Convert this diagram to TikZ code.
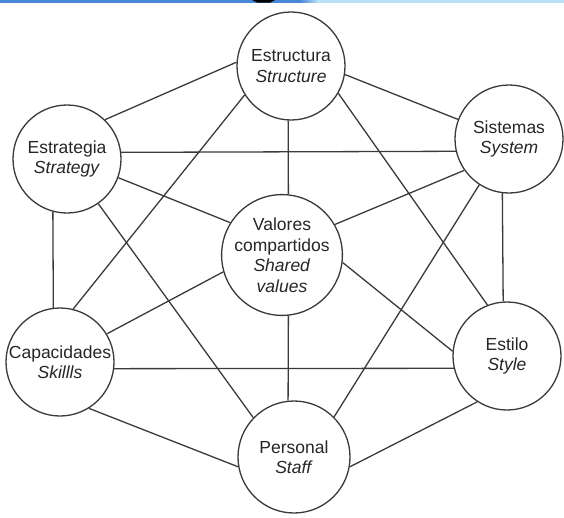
\documentclass[tikz,border=0pt]{standalone}
\usepackage{fontspec}
\setmainfont{Liberation Sans}
\definecolor{linec}{HTML}{3A3A3A}
\definecolor{txtc}{HTML}{262626}
\definecolor{barblue}{HTML}{4A86DA}
\definecolor{barlight}{HTML}{BBE2F8}
\begin{document}
\begin{tikzpicture}[x=1pt,y=-1pt,
  circ/.style={circle,draw=linec,line width=1.3pt,fill=white,minimum size=108pt,inner sep=0pt,align=center,font=\fontsize{17.5}{20.5}\selectfont,text=txtc},
  conn/.style={draw=linec,line width=1.3pt}]
\useasboundingbox (0,0) rectangle (564,517);
% top bar of the screenshot
\fill[barblue] (0,0) rectangle (300,2.5);
\shade[left color=barblue,right color=barlight] (300,0) rectangle (318,2.5);
\fill[barlight] (318,0) rectangle (564,2.5);
\fill[black] (252,0) -- (275,0) -- (270,2.5) -- (257,2.5) -- cycle;
% nodes
\node[circ] (E1) at (291,66) {Estructura\\\textit{Structure}};
\node[circ] (E2) at (67,159) {Estrategia\\\textit{Strategy}};
\node[circ] (S) at (509,139) {Sistemas\\\textit{System}};
\node[circ] (V) at (282,255) {Valores\\compartidos\\\textit{Shared}\\\textit{values}};
\node[circ] (C) at (60,362) {Capacidades\\\textit{Skillls}};
\node[circ] (Y) at (507,356) {Estilo\\\textit{Style}};
\node[circ,minimum size=112pt] (P) at (294,457) {Personal\\\textit{Staff}};
% connectors
\draw[conn] (E1.176) -- (E2.46);
\draw[conn] (E1.-9.5) -- (S.159);
\draw[conn] (E1.267) -- (V.84);
\draw[conn] (E1.212) -- (C.76.5);
\draw[conn] (E1.-30.6) -- (Y.111);
\draw[conn] (E2.7.4) -- (S.193.5);
\draw[conn] (E2.-20.6) -- (V.148);
\draw[conn] (E2.255) -- (C.97.5);
\draw[conn] (E2.-55) -- (P.136.4);
\draw[conn] (S.215.6) -- (V.30);
\draw[conn] (S.263.6) -- (Y.94.2);
\draw[conn] (S.237.7) -- (P.45.7);
\draw[conn] (V.196) -- (C.31);
\draw[conn] (V.-7) -- (Y.175.6);
\draw[conn] (V.276.4) -- (P.96.1);
\draw[conn] (C.-7.5) -- (Y.193.5);
\draw[conn] (C.-58) -- (P.190);
\draw[conn] (Y.237.5) -- (P.-10.7);
\end{tikzpicture}
\end{document}
